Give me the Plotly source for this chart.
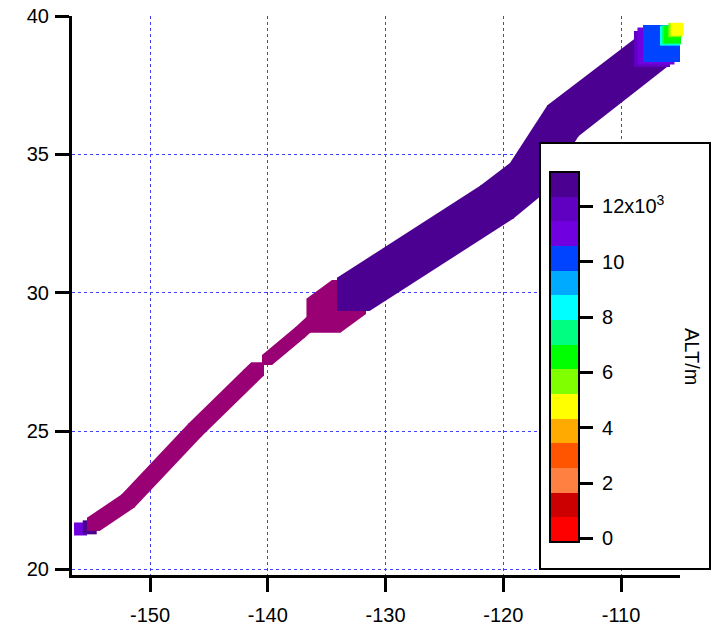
import plotly.graph_objects as go

# ---------------- data ----------------
# flight track: longitude, latitude, altitude (m); values above the colour range use the over-range colour
lon = [-155.90, -155.12, -154.80, -151.87, -146.18, -141.51, -140.87,
       -140.06, -137.26, -136.24, -135.25, -133.10,
       -132.72, -120.53, -118.07, -114.93, -107.37,
       -107.37, -107.03, -106.56, -105.84, -105.71, -105.63, -105.39, -105.24]
lat = [21.46, 21.52, 21.63, 22.47, 25.04, 26.98, 27.24,
       27.57, 28.56, 28.96, 29.18, 29.84,
       29.94, 33.28, 34.11, 36.21, 38.70,
       38.81, 38.92, 39.01, 39.29, 39.32, 39.32, 39.49, 39.52]
alt = [11000, 13000, 14000, 14000, 14000, 14000, 14000,
       14000, 14000, 14000, 14000, 14000,
       13000, 13000, 13000, 13000, 13000,
       12000, 11000, 10000, 8300, 7500, 6500, 5700, 4800]
gap_after = [6]          # record gap between these points

cb_tickvals = [0, 2000, 4000, 6000, 8000, 10000, 12000]
cb_ticktext = ["0", "2", "4", "6", "8", "10", "12x10<sup>3</sup>"]
x_ticks = [-150, -140, -130, -120, -110]
x_ticktext = ["-150", "-140", "-130", "-120", "-110"]
y_ticks = [20, 25, 30, 35, 40]

# ---------------- style ----------------
marker_px = [13, 14, 13, 13, 13, 13, 13, 10, 10, 10, 34, 34, 33, 33, 32, 31, 30,
             36, 37, 37, 20, 19, 17, 14, 13]
band_colors = ["#FF0000", "#CC0000", "#FF8040", "#FF5500", "#FFAA00", "#FFFF00",
               "#80FF00", "#00FF00", "#00FF80", "#00FFFF", "#00AAFF", "#0044FF",
               "#7000E0", "#6000C0", "#4B0091"]
over_color = "#990073"
cmin, cmax = -130, 13240
W, H = 712, 626
ml, mr, mt, mb = 72, 32, 16, 51
xr = [-156.624, -104.989]
yr = [19.797, 40.0]
FONT = "Liberation Sans, Arial, sans-serif"
FS = 20
GRID = "#4040ff"
NBSP = "\u00a0"

pw, ph = W - ml - mr, H - mt - mb
kx = pw / (xr[1] - xr[0])
ky = ph / (yr[1] - yr[0])


def col(a):
    if a > cmax:
        return over_color
    k = int((a - cmin) / (cmax - cmin) * len(band_colors))
    return band_colors[max(0, min(len(band_colors) - 1, k))]


def square_corners(i):
    hx = marker_px[i] / 2 / kx
    hy = marker_px[i] / 2 / ky
    return [(lon[i] + sx * hx, lat[i] + sy * hy) for sx in (-1, 1) for sy in (-1, 1)]


def convex_hull(pts):
    pts = sorted(set(pts))

    def cross(o, a, b):
        return (a[0] - o[0]) * (b[1] - o[1]) - (a[1] - o[1]) * (b[0] - o[0])

    lower, upper = [], []
    for p in pts:
        while len(lower) >= 2 and cross(lower[-2], lower[-1], p) <= 0:
            lower.pop()
        lower.append(p)
    for p in reversed(pts):
        while len(upper) >= 2 and cross(upper[-2], upper[-1], p) <= 0:
            upper.pop()
        upper.append(p)
    return lower[:-1] + upper[:-1]


colors = [col(a) for a in alt]
n = len(lon)

fig = go.Figure()
for i in range(n):
    if i > 0 and colors[i] == colors[i - 1] and (i - 1) not in gap_after \
            and abs(marker_px[i] - marker_px[i - 1]) <= 3:
        poly = convex_hull(square_corners(i - 1) + square_corners(i))
        px = [p[0] for p in poly] + [poly[0][0]]
        py = [p[1] for p in poly] + [poly[0][1]]
        fig.add_trace(go.Scatter(x=px, y=py, mode="lines", fill="toself",
                                 fillcolor=colors[i], line=dict(width=0, color=colors[i]),
                                 cliponaxis=False, showlegend=False, hoverinfo="skip"))
    fig.add_trace(go.Scatter(x=[lon[i]], y=[lat[i]], mode="markers",
                             marker=dict(symbol="square", size=marker_px[i],
                                         color=colors[i], line=dict(width=0)),
                             cliponaxis=False, showlegend=False,
                             hovertemplate="%{x}, %{y}<extra></extra>"))

# colour bar carrier
cs = []
nb = len(band_colors)
for k, c in enumerate(band_colors):
    cs.append([k / nb, c])
    cs.append([(k + 1) / nb, c])

cb_len = 370
cb_center_px = 357
fig.add_trace(go.Scatter(
    x=[None], y=[None], mode="markers", showlegend=False, hoverinfo="skip",
    marker=dict(color=[0], cmin=cmin, cmax=cmax, colorscale=cs, showscale=True,
                colorbar=dict(
                    thickness=29, thicknessmode="pixels",
                    len=cb_len, lenmode="pixels",
                    x=(550 - ml) / pw, xanchor="left", xpad=0,
                    y=(H - mb - cb_center_px) / ph, yanchor="middle", ypad=0,
                    outlinewidth=2, outlinecolor="black",
                    ticks="outside", ticklen=13, tickwidth=3, tickcolor="black",
                    tickvals=cb_tickvals, ticktext=[NBSP + t for t in cb_ticktext],
                    tickfont=dict(family=FONT, size=FS, color="black"),
                    bgcolor="rgba(0,0,0,0)", borderwidth=0))))

axis_common = dict(showline=True, linewidth=3, linecolor="black",
                   ticks="outside", ticklen=14, tickwidth=3, tickcolor="black",
                   showgrid=True, gridcolor=GRID, gridwidth=1, griddash="dot",
                   zeroline=False, automargin=False,
                   tickfont=dict(family=FONT, size=FS, color="black"))

fig.update_layout(
    width=W, height=H,
    margin=dict(l=ml, r=mr, t=mt, b=mb, autoexpand=False),
    paper_bgcolor="white", plot_bgcolor="white",
    xaxis=dict(range=xr, tickvals=x_ticks, ticktext=x_ticktext,
               ticklabelstandoff=6, **axis_common),
    yaxis=dict(range=yr, tickvals=y_ticks, ticklabelstandoff=2, **axis_common),
    shapes=[dict(type="rect", xref="paper", yref="paper", layer="above",
                 x0=(540 - ml) / pw, x1=(710 - ml) / pw,
                 y0=(H - mb - 569) / ph, y1=(H - mb - 143) / ph,
                 line=dict(color="black", width=2), fillcolor="white")],
    annotations=[dict(text="ALT/m", xref="paper", yref="paper",
                      x=(692 - ml) / pw, y=(H - mb - 357) / ph,
                      xanchor="center", yanchor="middle", showarrow=False,
                      textangle=90, font=dict(family=FONT, size=FS, color="black"))],
)

fig.write_html("out.html")
